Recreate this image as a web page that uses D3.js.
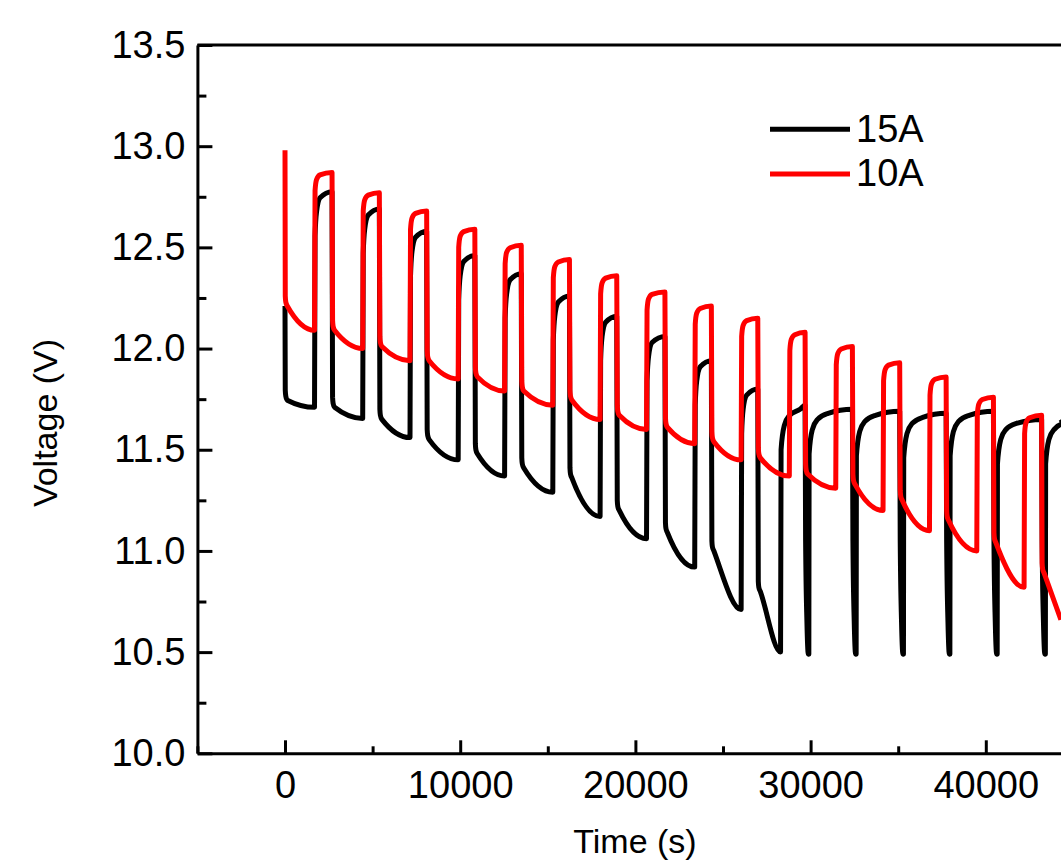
<!DOCTYPE html>
<html>
<head>
<meta charset="utf-8">
<script src="https://cdn.jsdelivr.net/npm/d3@7"></script>
<style>
  body { margin: 0; background: #fff; }
  svg { display: block; }
</style>
</head>
<body>
<div id="chart"></div>
<script>
const width = 1061;
const height = 864;

// pulse schedule in seconds: voltage steps up (rest) at riseTimes, load back on at fallTimes
const riseTimes = [1700, 4450, 7150, 9900, 12550, 15300, 18000, 20650, 23400, 26050, 28800, 31450, 34150, 36800, 39500, 42200];
const fallTimes = [2700, 5400, 8100, 10850, 13500, 16250, 18950, 21700, 24350, 27000, 29700, 32400, 35100, 37750, 40450, 43200];
const endTime = 44300;

// 10A trace: first point, rest peaks, discharge start / end voltages (index 0 = first discharge)
const v10AFirst = 12.98;
const v10APeak = [12.87, 12.77, 12.68, 12.59, 12.51, 12.44, 12.36, 12.28, 12.21, 12.15, 12.08, 12.01, 11.93, 11.86, 11.76, 11.67];
const v10AStart = [12.21, 12.09, 12.01, 11.94, 11.86, 11.79, 11.745, 11.67, 11.61, 11.54, 11.46, 11.38, 11.33, 11.25, 11.15, 11.04, 10.89];
const v10AEnd = [12.09, 12.00, 11.94, 11.85, 11.79, 11.72, 11.65, 11.60, 11.53, 11.45, 11.37, 11.31, 11.20, 11.10, 11.00, 10.82, 10.66];

// 15A trace: same layout until it hits the cut-off, then short spikes
const v15AFirst = 12.21;
const v15APeak = [12.775, 12.69, 12.58, 12.46, 12.37, 12.26, 12.16, 12.06, 11.94, 11.80];
const v15AStart = [11.745, 11.71, 11.65, 11.55, 11.48, 11.41, 11.36, 11.20, 11.09, 11.00, 10.80];
const v15AEnd = [11.71, 11.655, 11.56, 11.45, 11.37, 11.29, 11.17, 11.06, 10.92, 10.71, 10.50];
const cutoffTime = 28300;
const cutoffVolt = 10.49;
const v15ARest = [11.72, 11.70, 11.69, 11.68, 11.69, 11.65];

const xTicks = [0, 10000, 20000, 30000, 40000];
const xMinor = [-5000, 5000, 15000, 25000, 35000, 45000];
const yTicks = [10.0, 10.5, 11.0, 11.5, 12.0, 12.5, 13.0, 13.5];
const yMinor = [10.25, 10.75, 11.25, 11.75, 12.25, 12.75, 13.25];

const legendItems = [
    {name: "15A", color: "#000000"},
    {name: "10A", color: "#ff0000"}
];

const font = "'Liberation Sans', Arial, Helvetica, sans-serif";

// --- build point lists from the read values ---
function discharge(pts, t0, t1, vs, ve) {
    pts.push([t0 + 15, vs + 0.05], [t0 + 45, vs + 0.02], [t0 + 130, vs], [t1 - 15, ve]);
}
function rest(pts, t0, t1, vp, knee) {
    pts.push([t0 + 15, vp - knee[0]], [t0 + 100, vp - knee[1]], [t0 + 300, vp - knee[2]], [t1 - 15, vp]);
}
function recovery(pts, t0, t1, level) {
    pts.push([t0 + 15, level - 0.22], [t0 + 200, level - 0.10], [t0 + 500, level - 0.05], [t0 + 1100, level - 0.02], [t1 - 15, level]);
}
function spike(pts, t0) {
    pts.push([t0 + 15, 11.05], [t0 + 90, 10.65], [t0 + 170, cutoffVolt], [t0 + 200, cutoffVolt]);
}

const pts10A = [[0, v10AFirst]];
discharge(pts10A, 0, riseTimes[0], v10AStart[0], v10AEnd[0]);
riseTimes.forEach((r, i) => {
    rest(pts10A, r, fallTimes[i], v10APeak[i], [0.09, 0.035, 0.012]);
    const next = i < riseTimes.length - 1 ? riseTimes[i + 1] : endTime;
    discharge(pts10A, fallTimes[i], next, v10AStart[i + 1], v10AEnd[i + 1]);
});

const pts15A = [[0, v15AFirst]];
discharge(pts15A, 0, riseTimes[0], v15AStart[0], v15AEnd[0]);
v15APeak.forEach((p, i) => {
    rest(pts15A, riseTimes[i], fallTimes[i], p, [0.22, 0.10, 0.03]);
    const next = i < v15APeak.length - 1 ? riseTimes[i + 1] : cutoffTime;
    discharge(pts15A, fallTimes[i], next, v15AStart[i + 1], v15AEnd[i + 1]);
});
recovery(pts15A, cutoffTime, fallTimes[10], v15ARest[0]);
for (let j = 0; j < 6; j++) {
    const f = fallTimes[10 + j];
    spike(pts15A, f);
    const next = j < 5 ? fallTimes[11 + j] : endTime;
    recovery(pts15A, f + 200, next, v15ARest[Math.min(j + 1, v15ARest.length - 1)]);
}

// --- chart ---
const svg = d3.select("#chart")
    .append("svg")
    .attr("width", width)
    .attr("height", height)
    .style("font-family", font);

const x = d3.scaleLinear().domain([-5000, 50000]).range([197.4, 1161]);
const y = d3.scaleLinear().domain([10, 13.5]).range([753.3, 45]);

svg.append("clipPath").attr("id", "plot-clip")
    .append("rect")
    .attr("x", x(-5000)).attr("y", y(13.5))
    .attr("width", x(50000) - x(-5000))
    .attr("height", y(10) - y(13.5));

const line = d3.line()
    .x(d => x(d[0]))
    .y(d => y(d[1]))
    .curve(d3.curveMonotoneX);

const plot = svg.append("g").attr("clip-path", "url(#plot-clip)");

plot.append("path")
    .datum(pts15A)
    .attr("fill", "none")
    .attr("stroke", "#000")
    .attr("stroke-width", 5)
    .attr("stroke-linejoin", "round")
    .attr("d", line);

plot.append("path")
    .datum(pts10A)
    .attr("fill", "none")
    .attr("stroke", "#ff0000")
    .attr("stroke-width", 5)
    .attr("stroke-linejoin", "round")
    .attr("d", line);

// axes (ticks point inward)
svg.append("g")
    .attr("transform", `translate(0,${y(10)})`)
    .call(d3.axisBottom(x).tickValues(xTicks).tickSize(-13).tickSizeOuter(0).tickPadding(18).tickFormat(d3.format("d")));

svg.append("g")
    .attr("transform", `translate(0,${y(10)})`)
    .call(d3.axisBottom(x).tickValues(xMinor).tickSize(-7).tickFormat(""))
    .select(".domain").remove();

svg.append("g")
    .attr("transform", `translate(${x(-5000)},0)`)
    .call(d3.axisLeft(y).tickValues(yTicks).tickSize(-15).tickSizeOuter(0).tickPadding(12).tickFormat(d3.format(".1f")));

svg.append("g")
    .attr("transform", `translate(${x(-5000)},0)`)
    .call(d3.axisLeft(y).tickValues(yMinor).tickSize(-9).tickFormat(""))
    .select(".domain").remove();

svg.selectAll(".domain, .tick line")
    .attr("stroke", "#000")
    .attr("stroke-width", 3);

svg.selectAll(".tick text")
    .attr("font-size", 38)
    .attr("font-family", font)
    .attr("fill", "#000");

// top frame line
svg.append("line")
    .attr("x1", x(-5000)).attr("x2", x(50000))
    .attr("y1", y(13.5)).attr("y2", y(13.5))
    .attr("stroke", "#000")
    .attr("stroke-width", 3);

// axis titles
svg.append("text")
    .attr("x", 635)
    .attr("y", 853)
    .attr("text-anchor", "middle")
    .attr("font-size", 34)
    .text("Time (s)");

svg.append("text")
    .attr("transform", "translate(57,423) rotate(-90)")
    .attr("text-anchor", "middle")
    .attr("font-size", 34)
    .text("Voltage (V)");

// legend
const legend = svg.append("g");
legendItems.forEach((d, i) => {
    const ly = 129.3 + i * 44.7;
    legend.append("line")
        .attr("x1", 770).attr("x2", 850)
        .attr("y1", ly).attr("y2", ly)
        .attr("stroke", d.color)
        .attr("stroke-width", 5);
    legend.append("text")
        .attr("x", 856)
        .attr("y", ly + 12.4)
        .attr("font-size", 38)
        .text(d.name);
});
</script>
</body>
</html>
